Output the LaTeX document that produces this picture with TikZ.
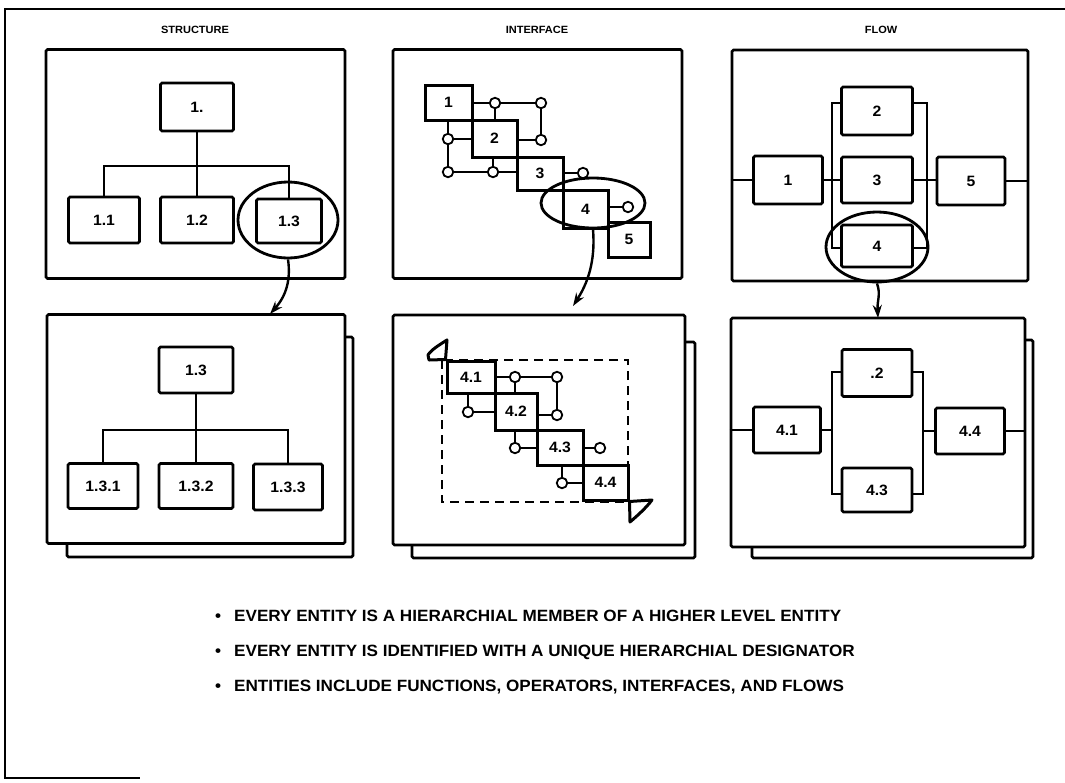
\documentclass[tikz,border=0pt]{standalone}
\usepackage{fontspec}
\setmainfont{Liberation Sans}[FakeStretch=1.05]
\usetikzlibrary{shapes.geometric, arrows.meta}

\tikzset{
	panel/.style={draw, line width=2.6pt, fill=white, rounded corners=1.5pt, inner sep=0},
	blk/.style={draw, line width=2.6pt, rounded corners=1.5pt, inner sep=0, font=\bfseries\fontsize{15}{15}\selectfont},
	stair/.style={draw, line width=3pt, inner sep=0, font=\bfseries\fontsize{15}{15}\selectfont},
	wire/.style={line width=1.6pt},
	port/.style={circle, draw, line width=1.8pt, fill=white, minimum size=10.5pt, inner sep=0},
	loupe/.style={ellipse, draw, line width=2.8pt, inner sep=0},
	zoomto/.style={line width=2.4pt, -{Stealth[length=13pt, width=9pt]}},
	heading/.style={font=\bfseries\fontsize{10.5}{10.5}\selectfont},
	bulletline/.style={anchor=west, inner sep=0, font=\bfseries\fontsize{16.3}{16.3}\selectfont},
}

\begin{document}
\begin{tikzpicture}[x=1pt, y=-1pt]
	\useasboundingbox (0,0) rectangle (1065,782);
	\draw[line width=2.2pt] (1065,9) -- (5,9) -- (5,778) -- (140,778);

	\node[heading] (hs) at (195,30) {STRUCTURE};
	\node[heading] (hi) at (537,30) {INTERFACE};
	\node[heading] (hf) at (881,30) {FLOW};

	\node[panel, minimum width=299, minimum height=229] (sa) at (195.5,164) {};
	\node[blk, minimum width=73, minimum height=48] (s1) at (197,107) {1.};
	\node[blk, minimum width=71, minimum height=46] (s11) at (104,220) {1.1};
	\node[blk, minimum width=73, minimum height=46] (s12) at (197,220) {1.2};
	\node[blk, minimum width=65, minimum height=44] (s13) at (289,221) {1.3};
	\coordinate (sbus) at (197,166);
	\draw[wire] (s1) -- (s12);
	\draw[wire] (s11.north) |- (sbus) -| (s13.north);
	\node[loupe, minimum width=100, minimum height=76] (lp1) at (288,220) {};

	\node[panel, minimum width=286, minimum height=220] (sbb) at (210,447) {};
	\node[panel, minimum width=298, minimum height=229] (sb) at (196,429) {};
	\node[blk, minimum width=74, minimum height=46] (t1) at (196,370) {1.3};
	\node[blk, minimum width=70, minimum height=45] (t11) at (103,486) {1.3.1};
	\node[blk, minimum width=74, minimum height=45] (t12) at (196,486) {1.3.2};
	\node[blk, minimum width=69, minimum height=46] (t13) at (288,487) {1.3.3};
	\coordinate (tbus) at (196,430);
	\draw[wire] (t1) -- (t12);
	\draw[wire] (t11.north) |- (tbus) -| (t13.north);
	\coordinate (sin) at (270,314);
	\draw[zoomto] (lp1.south) .. controls (291,280) and (286,296) .. (sin);

	\node[panel, minimum width=289, minimum height=229] (ia) at (537.5,164) {};
	\node[port] (p1) at (495,103) {};
	\node[port] (p2) at (541,103) {};
	\node[port] (p3) at (541,140) {};
	\node[port] (p4) at (448,139) {};
	\node[port] (p5) at (448,172) {};
	\node[port] (p6) at (493,172) {};
	\node[port] (p7) at (583,173) {};
	\node[port] (p8) at (628,207) {};
	\node[stair, minimum width=47, minimum height=35] (i1) at (448.5,102.5) {1};
	\node[stair, minimum width=45, minimum height=37] (i2) at (494.5,138.5) {2};
	\node[stair, minimum width=46, minimum height=33] (i3) at (540,173.5) {3};
	\node[stair, minimum width=45, minimum height=38] (i4) at (585.5,209) {4};
	\node[stair, minimum width=42, minimum height=35] (i5) at (629,239.5) {5};
	\draw[wire] (i1.east |- p1) -- (p1) -- (p2) -- (p3) -- (i2.east |- p3);
	\draw[wire] (p1) -- (p1 |- i2.north);
	\draw[wire] (p4 |- i1.south) -- (p4) -- (p5) -- (p6) -- (i3.west |- p6);
	\draw[wire] (p4) -- (i2.west |- p4);
	\draw[wire] (p6) -- (p6 |- i2.south);
	\draw[wire] (p7) -- (i3.east |- p7);
	\draw[wire] (p8) -- (i4.east |- p8);
	\node[loupe, minimum width=104, minimum height=50] (lp2) at (593,203) {};

	\node[panel, minimum width=283, minimum height=216] (ibb) at (553.5,450) {};
	\node[panel, minimum width=292, minimum height=230] (ib) at (539,430) {};
	\draw[line width=2.6pt, dash pattern=on 9pt off 6pt] (442,360) rectangle (628,502);
	\node[port] (q1) at (515,377) {};
	\node[port] (q2) at (557,377) {};
	\node[port] (q3) at (557,415) {};
	\node[port] (q4) at (468,412) {};
	\node[port] (q5) at (515,448) {};
	\node[port] (q6) at (600,448) {};
	\node[port] (q7) at (562,483) {};
	\node[stair, fill=white, minimum width=48, minimum height=32] (j1) at (471,377) {4.1};
	\node[stair, minimum width=42, minimum height=37] (j2) at (516,411.5) {4.2};
	\node[stair, minimum width=46, minimum height=35] (j3) at (560,447.5) {4.3};
	\node[stair, minimum width=45, minimum height=35] (j4) at (605.5,482.5) {4.4};
	\draw[wire] (j1.east |- q1) -- (q1) -- (q2) -- (q3) -- (j2.east |- q3);
	\draw[wire] (q1) -- (q1 |- j2.north);
	\draw[wire] (q4 |- j1.south) -- (q4) -- (j2.west |- q4);
	\draw[wire] (q5 |- j2.south) -- (q5) -- (j3.west |- q5);
	\draw[wire] (q6) -- (j3.east |- q6);
	\draw[wire] (q7 |- j3.south) -- (q7) -- (j4.west |- q7);
	\draw[line width=3pt, line join=round] (j1.north west) -- (447,340) .. controls (439,345) and (431,350) .. (428,355) -- (429,360) -- (j1.north west);
	\draw[line width=3pt, line join=round] (j4.south east) -- (652,500) .. controls (646,508) and (637,516) .. (630,522) -- (j4.south east);
	\coordinate (iin) at (573,306);
	\draw[zoomto] (lp2.south) .. controls (595,255) and (591,278) .. (iin);

	\node[panel, minimum width=296, minimum height=231] (fa) at (880,165.5) {};
	\node[blk, minimum width=69, minimum height=48] (f1) at (788,180) {1};
	\node[blk, minimum width=71, minimum height=48] (f2) at (877,111) {2};
	\node[blk, minimum width=71, minimum height=46] (f3) at (877,180) {3};
	\node[blk, minimum width=68, minimum height=48] (f5) at (971,181) {5};
	\node[blk, minimum width=71, minimum height=42] (f4) at (877,246) {4};
	\coordinate (fl1) at (832,103);
	\coordinate (fl2) at (832,248);
	\coordinate (fr1) at (927,103);
	\coordinate (fr2) at (927,248);
	\draw[wire] (fa.west |- f1) -- (f1);
	\draw[wire] (f1) -- (f3);
	\draw[wire] (f3) -- (f5.west |- f3);
	\draw[wire] (f5) -- (fa.east |- f5);
	\draw[wire] (f2.west |- fl1) -- (fl1) -- (fl2) -- (f4.west |- fl2);
	\draw[wire] (f2.east |- fr1) -- (fr1) -- (fr2) -- (f4.east |- fr2);
	\node[loupe, minimum width=102, minimum height=70] (lp3) at (877,247) {};

	\node[panel, minimum width=281, minimum height=218] (gbb) at (892.5,449) {};
	\node[panel, minimum width=294, minimum height=229] (gb) at (878,432.5) {};
	\node[blk, minimum width=67, minimum height=46] (g1) at (787,430) {4.1};
	\node[blk, minimum width=70, minimum height=47] (g2) at (877,373) {.2};
	\node[blk, minimum width=70, minimum height=44] (g3) at (877,490) {4.3};
	\node[blk, minimum width=69, minimum height=46] (g4) at (970,431) {4.4};
	\coordinate (gl1) at (832,372);
	\coordinate (gl2) at (832,494);
	\coordinate (gr1) at (923,372);
	\coordinate (gr2) at (923,494);
	\draw[wire] (gb.west |- g1) -- (g1);
	\draw[wire] (g1) -- (g1 -| gl1);
	\draw[wire] (g4) -- (g4 -| gr1);
	\draw[wire] (g4) -- (gb.east |- g4);
	\draw[wire] (g2.west |- gl1) -- (gl1) -- (gl2) -- (g3.west |- gl2);
	\draw[wire] (g2.east |- gr1) -- (gr1) -- (gr2) -- (g3.east |- gr2);
	\coordinate (fin) at (878,318);
	\draw[zoomto] (lp3.south) .. controls (881,295) and (877,300) .. (fin);

	\node[bulletline] (b1) at (215,616) {\textbullet\hspace{13pt}EVERY ENTITY IS A HIERARCHIAL MEMBER OF A HIGHER LEVEL ENTITY};
	\node[bulletline] (b2) at (215,652) {\textbullet\hspace{13pt}EVERY ENTITY IS IDENTIFIED WITH A UNIQUE HIERARCHIAL DESIGNATOR};
	\node[bulletline] (b3) at (215,687) {\textbullet\hspace{13pt}ENTITIES INCLUDE FUNCTIONS, OPERATORS, INTERFACES, AND FLOWS};
\end{tikzpicture}
\end{document}
